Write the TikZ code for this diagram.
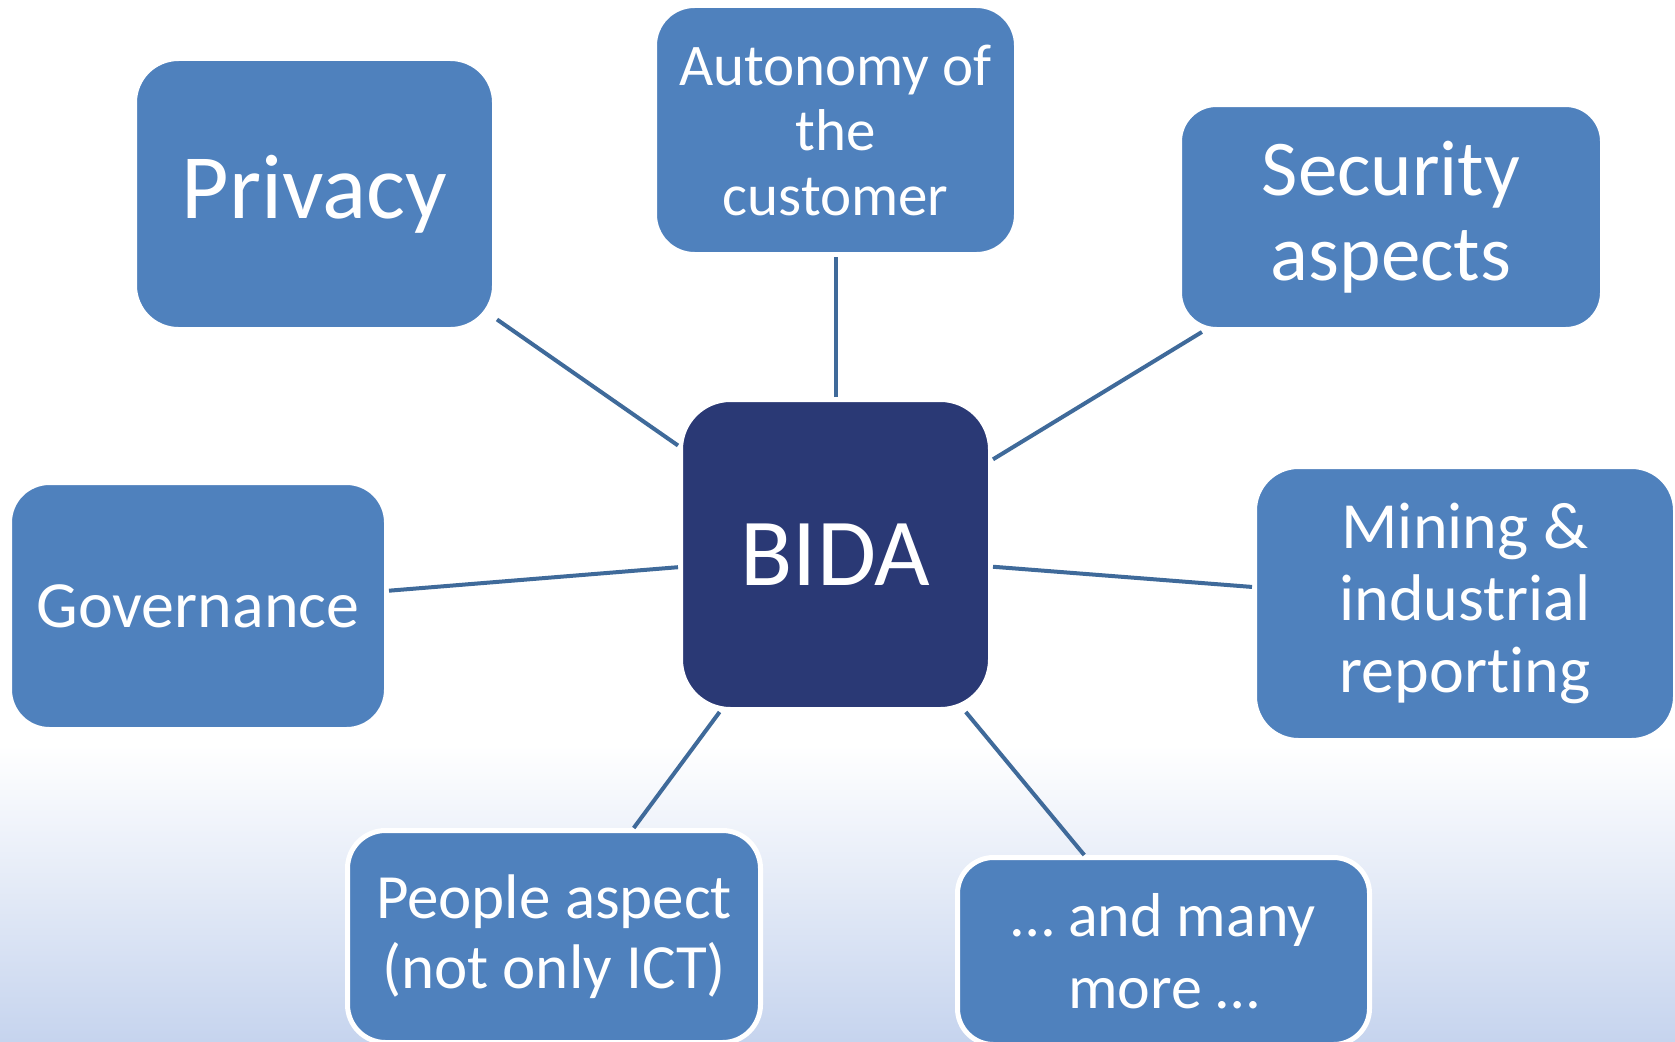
\documentclass[tikz,border=0pt]{standalone}
\usepackage{fontspec}
\setmainfont{Carlito}[Ligatures=NoCommon]
\definecolor{boxblue}{HTML}{4F81BD}
\definecolor{hubblue}{HTML}{2A3975}
\definecolor{linkblue}{HTML}{3F6A9A}
\definecolor{bgblue}{HTML}{C6D4EE}
\newcommand{\fs}[2]{\fontsize{#1}{#2}\selectfont}
\begin{document}
\begin{tikzpicture}[x=1pt,y=-1pt,
  topic/.style={rectangle, fill=boxblue, draw=white, line width=5pt,
    text=white, align=center, inner sep=0pt},
  hub/.style={topic, fill=hubblue},
  link/.style={draw=linkblue, line width=4pt}]
  % canvas: white upper part, soft blue fade towards the bottom
  \useasboundingbox (0,0) rectangle (1675,1041);
  \fill[white] (0,0) rectangle (1675,1041);
  \shade[top color=white, bottom color=bgblue] (0,745) rectangle (1675,1041);

  % central node
  \node[hub, minimum width=310pt, minimum height=310pt, rounded corners=50pt,
    font=\fs{96}{104}] (bida) at (835.5,554.5) {BIDA};

  % surrounding topics
  \node[topic, minimum width=360pt, minimum height=271pt, rounded corners=44pt,
    font=\fs{92}{100}] (privacy) at (314.5,194) {Privacy};
  \node[topic, minimum width=362pt, minimum height=249pt, rounded corners=40pt,
    font=\fs{59}{65}] (autonomy) at (835.5,130) {Autonomy of\\the\\customer};
  \node[topic, minimum width=423pt, minimum height=225pt, rounded corners=37pt,
    font=\fs{79}{85}] (security) at (1391,217) {Security\\aspects};
  \node[topic, minimum width=421pt, minimum height=274pt, rounded corners=44pt,
    font=\fs{66}{72}] (mining) at (1465,603.5) {Mining \&\\industrial\\reporting};
  \node[topic, minimum width=377pt, minimum height=247pt, rounded corners=40pt,
    font=\fs{66}{70}] (governance) at (198,606) {Governance};
  \node[topic, minimum width=413pt, minimum height=212pt, rounded corners=38pt,
    font=\fs{63}{70}] (people) at (554,936.5) {People aspect\\(not only ICT)};
  \node[topic, minimum width=412pt, minimum height=187pt, rounded corners=36pt,
    font=\fs{62}{72}] (more) at (1163.5,951) {… and many\\more …};

  % spokes from the hub
  \foreach \t in {privacy,autonomy,security,mining,governance,people,more}
    \draw[link] (bida) -- (\t);
\end{tikzpicture}
\end{document}
